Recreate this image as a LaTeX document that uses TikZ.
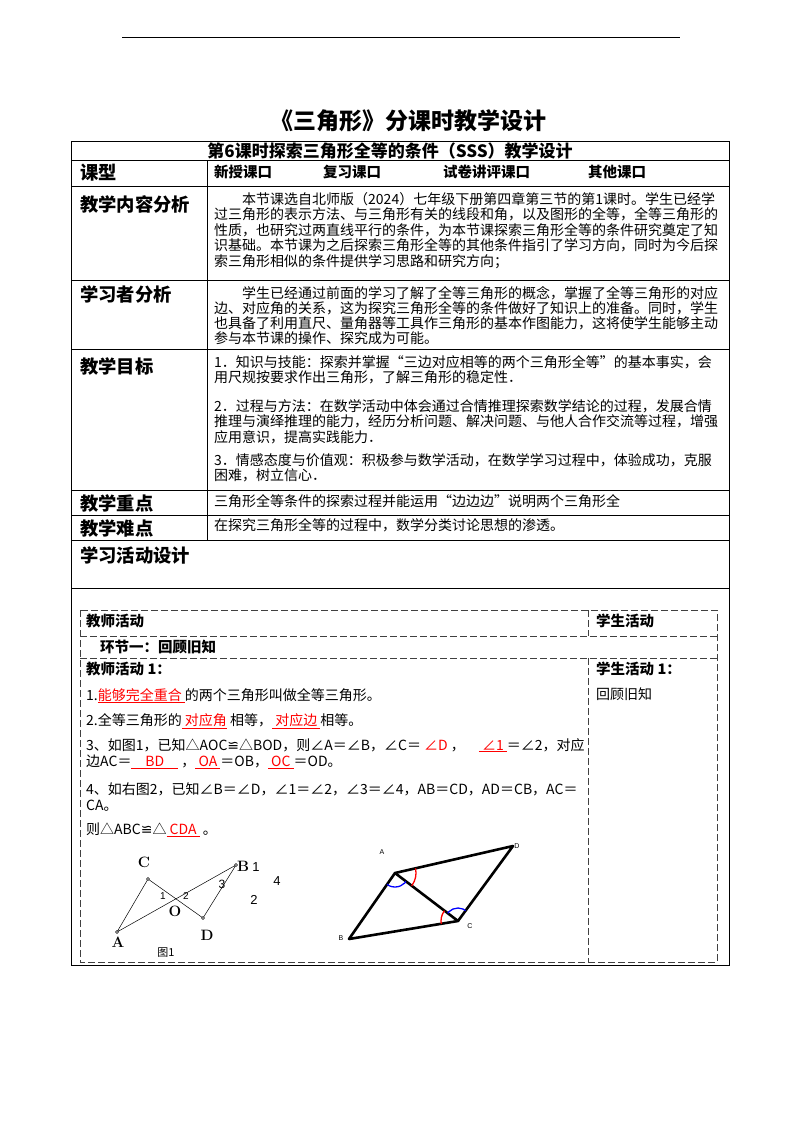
\documentclass[tikz,border=0pt]{standalone}
\usepackage{fontspec}
\setmainfont{Noto Sans CJK SC}
\newfontfamily\dejavu{DejaVu Sans}
\newfontfamily\lm{Latin Modern Roman}
\newfontfamily\lsans{Liberation Sans}
\newcommand{\congr}{{\dejavu ≌}}
\newcommand{\fillin}[1]{\textcolor{red}{\underline{#1}}}
\newcommand{\bodyfont}{\fontsize{14}{17.6}\selectfont}
\begin{document}
\begin{tikzpicture}[x=1pt,y=-1pt,
  lab/.style={anchor=west,font=\fontsize{18.3}{20}\selectfont\bfseries,inner sep=0},
  body/.style={anchor=north west,align=left,inner sep=0,font=\bodyfont},
  hb/.style={anchor=west,inner sep=0,font=\fontsize{14.5}{16}\selectfont\bfseries},
  dsh/.style={dash pattern=on 7pt off 3pt,line width=0.9pt,draw=black!75},
  fl/.style={line width=0.5pt},
  pt/.style={circle,draw,inner sep=0,minimum size=3pt,fill=white},
  thk/.style={line width=2.6pt,line cap=round,line join=round}]
\useasboundingbox (0,0) rectangle (800,1132);
\draw[line width=1pt] (122,38) -- (680,38);
\node[font=\fontsize{23}{25}\selectfont\bfseries] (title) at (408,121) {《三角形》分课时教学设计};
% outer table
\draw[line width=0.8pt] (71,141) rectangle (729,965);
\foreach \y in {160,186,280,349,490,515,540,588} \draw[line width=0.8pt] (71,\y) -- (729,\y);
\draw[line width=0.8pt] (207,160) -- (207,540);
\node[font=\fontsize{17}{18}\selectfont\bfseries] (sub) at (390,151) {第6课时探索三角形全等的条件（SSS）教学设计};
\node[lab] (l1) at (80,173) {课型};
\node[hb] (o1) at (214,172) {新授课口};
\node[hb] (o2) at (323,172) {复习课口};
\node[hb] (o3) at (443,172) {试卷讲评课口};
\node[hb] (o4) at (588,172) {其他课口};
\node[lab] (l2) at (80,204) {教学内容分析};
\node[body] (t2) at (214,192) {\hspace{2em}本节课选自北师版（2024）七年级下册第四章第三节的第1课时。学生已经学\\[-2pt]过三角形的表示方法、与三角形有关的线段和角，以及图形的全等，全等三角形的\\[-2pt]性质，也研究过两直线平行的条件，为本节课探索三角形全等的条件研究奠定了知\\[-2pt]识基础。本节课为之后探索三角形全等的其他条件指引了学习方向，同时为今后探\\[-2pt]索三角形相似的条件提供学习思路和研究方向；};
\node[lab] (l3) at (80,294) {学习者分析};
\node[body] (t3) at (214,286) {\hspace{2em}学生已经通过前面的学习了解了全等三角形的概念，掌握了全等三角形的对应\\[-2.5pt]边、对应角的关系，这为探究三角形全等的条件做好了知识上的准备。同时，学生\\[-2.5pt]也具备了利用直尺、量角器等工具作三角形的基本作图能力，这将使学生能够主动\\[-2.5pt]参与本节课的操作、探究成为可能。};
\node[lab] (l4) at (80,366) {教学目标};
\node[body] (t4a) at (214,355) {1．知识与技能：探索并掌握“三边对应相等的两个三角形全等”的基本事实，会\\[-2pt]用尺规按要求作出三角形，了解三角形的稳定性．};
\node[body] (t4b) at (214,399) {2．过程与方法：在数学活动中体会通过合情推理探索数学结论的过程，发展合情\\[-2pt]推理与演绎推理的能力，经历分析问题、解决问题、与他人合作交流等过程，增强\\[-2pt]应用意识，提高实践能力．};
\node[body] (t4c) at (214,453) {3．情感态度与价值观：积极参与数学活动，在数学学习过程中，体验成功，克服\\[-2pt]困难，树立信心．};
\node[lab] (l5) at (80,503) {教学重点};
\node[body] (t5) at (214,494) {三角形全等条件的探索过程并能运用“边边边”说明两个三角形全};
\node[lab] (l6) at (80,528) {教学难点};
\node[body] (t6) at (214,518) {在探究三角形全等的过程中，数学分类讨论思想的渗透。};
\node[lab] (l7) at (80,555) {学习活动设计};
% inner dashed table
\draw[dsh] (80,610) rectangle (717,962);
\draw[dsh] (80,636) -- (717,636);
\draw[dsh] (80,658) -- (717,658);
\draw[dsh] (588,610) -- (588,636);
\draw[dsh] (588,658) -- (588,962);
\node[hb] (h1) at (86,621) {教师活动};
\node[hb] (h2) at (596,621) {学生活动};
\node[hb] (h3) at (100,647) {环节一：回顾旧知};
\node[hb] (h4) at (86,669) {教师活动 1：};
\node[hb] (h5) at (596,669) {学生活动 1：};
\node[body] (s1) at (596,688) {回顾旧知};
\node[body] (q1) at (86,688) {1.\fillin{能够完全重合 }的两个三角形叫做全等三角形。};
\node[body] (q2) at (86,713) {2.全等三角形的\fillin{ 对应角} 相等，\fillin{ 对应边 }相等。};
\node[body] (q3) at (86,738) {3、如图1，已知△AOC\congr△BOD，则∠A＝∠B，∠C＝ \textcolor{red}{\itshape ∠D} ，\quad \fillin{ ∠1 }＝∠2，对应\\[-1pt]边AC＝\fillin{\quad BD\quad} ，\fillin{ OA }＝OB，\fillin{ OC }＝OD。};
\node[body] (q4) at (86,783) {4、如右图2，已知∠B＝∠D，∠1＝∠2，∠3＝∠4，AB＝CD，AD＝CB，AC＝\\[-2pt]CA。};
\node[body] (q5) at (86,823) {则△ABC\congr△\fillin{ CDA } 。};
% figure 1
\coordinate (A) at (117,932);
\coordinate (C) at (148,879);
\coordinate (B) at (236,865);
\coordinate (D) at (203,918);
\draw[fl] (A) -- (C) -- (D) -- (B) -- (A);
\foreach \p in {A,B,C,D} \node[pt] at (\p) {};
\node[font=\lm\bfseries\fontsize{15}{15}\selectfont] (la) at (118,942) {A};
\node[font=\lm\bfseries\fontsize{15}{15}\selectfont] (lc) at (144,862) {C};
\node[font=\lm\bfseries\fontsize{15}{15}\selectfont] (lb) at (243,866) {B};
\node[font=\lm\bfseries\fontsize{15}{15}\selectfont] (ld) at (207,935) {D};
\node[font=\lm\bfseries\fontsize{15}{15}\selectfont] (lo) at (175,911) {O};
\node[font=\lsans\fontsize{10}{10}\selectfont] (n1) at (163,896) {1};
\node[font=\lsans\fontsize{10}{10}\selectfont] (n2) at (186,896) {2};
\node[font=\lsans\fontsize{12}{12}\selectfont] (n3) at (222,884) {3};
\node[font=\lsans\fontsize{13}{13}\selectfont] (m1) at (256,867) {1};
\node[font=\lsans\fontsize{13}{13}\selectfont] (m4) at (277,881) {4};
\node[font=\lsans\fontsize{13}{13}\selectfont] (m2) at (254,900) {2};
\node[font=\fontsize{11}{11}\selectfont] (f1) at (166,953) {图1};
% figure 2
\coordinate (PA) at (395,873);
\coordinate (PD) at (513,846);
\coordinate (PC) at (458,921);
\coordinate (PB) at (349,939);
\draw[thk] (PA) -- (PD) -- (PC) -- (PB) -- cycle;
\draw[thk] (PA) -- (PC);
\begin{scope}
\clip (PA) -- (PD) -- (PC) -- cycle;
\draw[red,line width=1.3pt] (PA) circle (21);
\end{scope}
\begin{scope}
\clip (PA) -- (PB) -- (PC) -- cycle;
\draw[blue,line width=1.3pt] (PA) circle (14);
\end{scope}
\begin{scope}
\clip (PC) -- (PB) -- (PA) -- cycle;
\draw[red,line width=1.3pt] (PC) circle (17);
\end{scope}
\begin{scope}
\clip (PC) -- (PD) -- (PA) -- cycle;
\draw[blue,line width=1.3pt] (PC) circle (13);
\end{scope}
\node[font=\lsans\fontsize{7}{7}\selectfont] (qa) at (382,852) {A};
\node[font=\lsans\fontsize{7}{7}\selectfont] (qd) at (517,846) {D};
\node[font=\lsans\fontsize{7}{7}\selectfont] (qc) at (470,926) {C};
\node[font=\lsans\fontsize{7}{7}\selectfont] (qb) at (341,938) {B};
\end{tikzpicture}
\end{document}
